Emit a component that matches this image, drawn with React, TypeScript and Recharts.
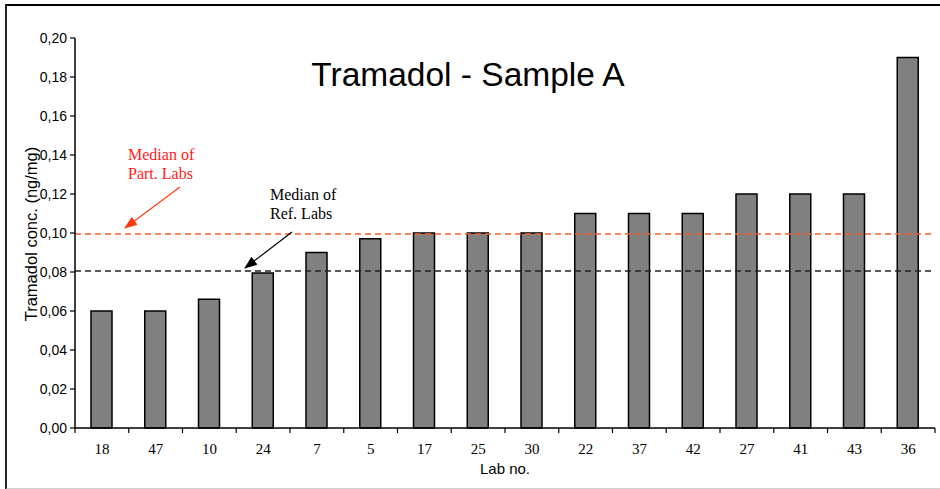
import { BarChart, Bar, XAxis, YAxis, ReferenceLine } from 'recharts';

const labs = ['18', '47', '10', '24', '7', '5', '17', '25', '30', '22', '37', '42', '27', '41', '43', '36'];
const conc = [0.06, 0.06, 0.066, 0.0795, 0.09, 0.097, 0.1, 0.1, 0.1, 0.11, 0.11, 0.11, 0.12, 0.12, 0.12, 0.19];
const yTicks = [0, 0.02, 0.04, 0.06, 0.08, 0.1, 0.12, 0.14, 0.16, 0.18, 0.2];
const medianPart = 0.0995;
const medianRef = 0.0805;

const W = 940;
const H = 489;
const PLOT_LEFT = 75;
const PLOT_RIGHT = 935;
const BAND = (PLOT_RIGHT - PLOT_LEFT) / labs.length;

const data = labs.map((lab, i) => ({ lab, value: conc[i] }));

const XTick = (props: any) => {
  const { x, y, payload, index } = props;
  const left = x - BAND / 2;
  return (
    <g>
      <line x1={left} y1={y - 8} x2={left} y2={y - 3} stroke="#000" strokeWidth={1.2} />
      {index === labs.length - 1 && (
        <line x1={left + BAND} y1={y - 8} x2={left + BAND} y2={y - 3} stroke="#000" strokeWidth={1.2} />
      )}
      <text x={x} y={y + 18} textAnchor="middle" fontFamily="'Liberation Serif', 'Times New Roman', serif" fontSize={15} fill="#000">
        {payload.value}
      </text>
    </g>
  );
};

export default function App() {
  return (
    <div style={{ position: 'absolute', left: 0, top: 0, width: W, height: H, background: '#fff', overflow: 'hidden' }}>
      <div
        style={{
          position: 'absolute',
          left: 5,
          top: 4,
          width: W,
          height: 482,
          borderTop: '2px solid #000',
          borderLeft: '2px solid #222',
          borderBottom: '2px solid #d0d0d0',
        }}
      />
      <BarChart
        width={W}
        height={H}
        data={data}
        margin={{ top: 38, right: W - PLOT_RIGHT, bottom: 0, left: PLOT_LEFT - 60 }}
        barSize={21}
        style={{ position: 'absolute', left: 0, top: 0 }}
      >
        <XAxis
          dataKey="lab"
          tickLine={false}
          axisLine={{ stroke: '#000', strokeWidth: 1.5 }}
          tick={<XTick />}
          interval={0}
          height={61}
        />
        <YAxis
          width={60}
          domain={[0, 0.2]}
          ticks={yTicks}
          interval={0}
          tickFormatter={(v: number) => v.toFixed(2).replace('.', ',')}
          axisLine={{ stroke: '#000', strokeWidth: 1.5 }}
          tickLine={{ stroke: '#000', strokeWidth: 1.2 }}
          tickSize={5}
          tickMargin={3}
          tick={{ fill: '#000', fontSize: 14, fontFamily: "'Liberation Sans', Arial, sans-serif" }}
        />
        <Bar dataKey="value" fill="#808080" stroke="#000" strokeWidth={1.5} isAnimationActive={false} />
        <ReferenceLine y={medianPart} stroke="#ff5a2a" strokeWidth={1.5} strokeDasharray="6 4" />
        <ReferenceLine y={medianRef} stroke="#222" strokeWidth={1.5} strokeDasharray="6 4" />
      </BarChart>
      <svg width={W} height={H} style={{ position: 'absolute', left: 0, top: 0, pointerEvents: 'none' }}>
        <defs>
          <marker id="arrRed" markerWidth="13" markerHeight="10" refX="12" refY="5" orient="auto" markerUnits="userSpaceOnUse">
            <path d="M0,0 L13,5 L0,10 z" fill="#ff3a10" />
          </marker>
          <marker id="arrBlk" markerWidth="13" markerHeight="10" refX="12" refY="5" orient="auto" markerUnits="userSpaceOnUse">
            <path d="M0,0 L13,5 L0,10 z" fill="#000" />
          </marker>
        </defs>
        <text x={468} y={86} textAnchor="middle" fontFamily="'Liberation Sans', Arial, sans-serif" fontSize={33.5} fill="#000">
          Tramadol - Sample A
        </text>
        <text
          transform="translate(37,234) rotate(-90)"
          textAnchor="middle"
          fontFamily="'Liberation Sans', Arial, sans-serif"
          fontSize={16.5}
          fill="#000"
        >
          Tramadol conc. (ng/mg)
        </text>
        <text x={505} y={474} textAnchor="middle" fontFamily="'Liberation Sans', Arial, sans-serif" fontSize={15} fill="#000">
          Lab no.
        </text>
        <g fontFamily="'Liberation Serif', 'Times New Roman', serif" fontSize={16}>
          <text x={128} y={160} fill="#ff1a1a">Median of</text>
          <text x={128} y={179} fill="#ff1a1a">Part. Labs</text>
          <text x={270} y={200} fill="#000">Median of</text>
          <text x={270} y={219} fill="#000">Ref. Labs</text>
        </g>
        <line x1={180} y1={187} x2={125} y2={228} stroke="#ff3a10" strokeWidth={1.2} markerEnd="url(#arrRed)" />
        <line x1={292} y1={232} x2={245} y2={268} stroke="#000" strokeWidth={1.2} markerEnd="url(#arrBlk)" />
      </svg>
    </div>
  );
}
